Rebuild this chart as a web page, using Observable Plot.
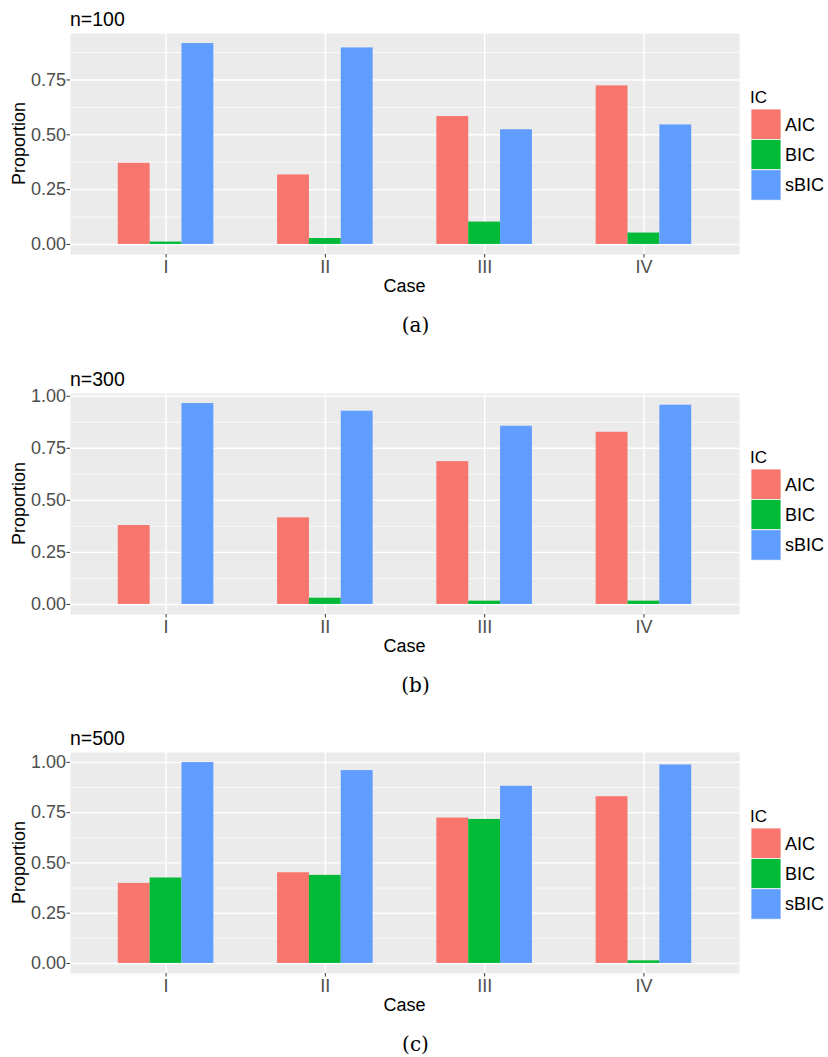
<!DOCTYPE html>
<html><head><meta charset="utf-8">
<script src="https://cdn.jsdelivr.net/npm/d3@7"></script>
<script src="https://cdn.jsdelivr.net/npm/@observablehq/plot@0.6"></script>
<style>
body{margin:0;background:#fff;}
#root{position:relative;width:828px;height:1057px;overflow:hidden;font-family:"Liberation Sans",Arial,sans-serif;}
.panel{position:absolute;left:0;width:828px;height:360px;}
.panel svg{position:absolute;left:0;top:0;}
</style></head><body><div id="root"></div>
<script>
// ---- data ----
const cases = ["I", "II", "III", "IV"];
const ics = ["AIC", "BIC", "sBIC"];
const icColors = ["#F8766D", "#00BA38", "#619CFF"];
const panelTitles = ["n=100", "n=300", "n=500"];
const captions = ["(a)", "(b)", "(c)"];
const aicN100 = [0.370, 0.317, 0.583, 0.723];
const bicN100 = [0.011, 0.027, 0.102, 0.052];
const sbicN100 = [0.916, 0.896, 0.523, 0.545];
const aicN300 = [0.379, 0.416, 0.686, 0.827];
const bicN300 = [0.000, 0.030, 0.016, 0.016];
const sbicN300 = [0.965, 0.928, 0.856, 0.957];
const aicN500 = [0.398, 0.451, 0.723, 0.829];
const bicN500 = [0.425, 0.438, 0.716, 0.013];
const sbicN500 = [0.999, 0.959, 0.881, 0.987];
const majorTicks = [0, 0.25, 0.5, 0.75, 1];
const minorTicks = [0.125, 0.375, 0.625, 0.875];
const xLabel = "Case", yLabel = "Proportion", legendTitle = "IC";

const panelSeries = [
  [aicN100, bicN100, sbicN100],
  [aicN300, bicN300, sbicN300],
  [aicN500, bicN500, sbicN500]
];
const panelTops = [0, 359.5, 719];

// dodge layout (like ggplot position_dodge, width 0.6)
const groupWidth = 0.6;
const barWidth = groupWidth / ics.length;
const casePos = cases.map((c, ci) => ci + 1);

const root = document.getElementById("root");

panelSeries.forEach((series, i) => {
  const rows = [];
  cases.forEach((c, ci) => ics.forEach((ic, k) => {
    const left = casePos[ci] - groupWidth / 2 + k * barWidth;
    rows.push({case: c, ic, value: series[k][ci], x1: left, x2: left + barWidth});
  }));
  const ymax = d3.max(rows, d => d.value);
  const ydom = [-0.05 * ymax, 1.05 * ymax];
  const inDom = t => t >= ydom[0] && t <= ydom[1];
  const xdom = [1 - 0.6, cases.length + 0.6];

  const div = document.createElement("div");
  div.className = "panel";
  div.style.top = panelTops[i] + "px";
  root.appendChild(div);

  const chart = Plot.plot({
    width: 828, height: 300,
    marginTop: 33, marginLeft: 70, marginRight: 89, marginBottom: 46,
    style: {fontFamily: "Liberation Sans, Arial, sans-serif", fontSize: "18px", background: "transparent", overflow: "visible"},
    x: {domain: xdom, label: null},
    y: {domain: ydom, label: null},
    color: {domain: ics, range: icColors},
    marks: [
      Plot.frame({fill: "#EBEBEB"}),
      Plot.gridY(minorTicks.filter(inDom), {stroke: "#fff", strokeOpacity: 1, strokeWidth: 0.7}),
      Plot.gridY(majorTicks.filter(inDom), {stroke: "#fff", strokeOpacity: 1, strokeWidth: 1.4}),
      Plot.gridX(casePos, {stroke: "#fff", strokeOpacity: 1, strokeWidth: 1.4}),
      Plot.rect(rows, {x1: "x1", x2: "x2", y1: () => 0, y2: "value", fill: "ic"}),
      Plot.axisY(majorTicks.filter(inDom), {tickFormat: d3.format(".2f"), tickSize: 3.5, tickPadding: 1, fontSize: 18, fill: "#4d4d4d", stroke: "#333", label: null}),
      Plot.axisX(casePos, {tickFormat: p => cases[p - 1], tickSize: 3.5, tickPadding: 2, fontSize: 18, fill: "#4d4d4d", stroke: "#333", label: null})
    ]
  });
  div.appendChild(chart);

  // overlay with titles, legend and caption
  const ov = d3.select(div).append("svg")
    .attr("width", 828).attr("height", 360)
    .style("font-family", "Liberation Sans, Arial, sans-serif");
  ov.append("text").attr("x", 70).attr("y", 25.7).attr("font-size", 19.5).attr("fill", "#000").text(panelTitles[i]);
  ov.append("text").attr("transform", "translate(24.6,143.5) rotate(-90)").attr("text-anchor", "middle")
    .attr("font-size", 18).attr("fill", "#000").text(yLabel);
  ov.append("text").attr("x", 404.5).attr("y", 292).attr("text-anchor", "middle")
    .attr("font-size", 18).attr("fill", "#000").text(xLabel);
  // legend
  ov.append("text").attr("x", 750).attr("y", 103).attr("font-size", 17).attr("fill", "#000").text(legendTitle);
  ics.forEach((ic, k) => {
    const y0 = 109 + k * 30.4;
    ov.append("rect").attr("x", 751).attr("y", y0).attr("width", 30).attr("height", 30.4)
      .attr("fill", icColors[k]).attr("stroke", "#fff").attr("stroke-width", 0.8);
    ov.append("text").attr("x", 785).attr("y", y0 + 15.2).attr("dy", "0.36em")
      .attr("font-size", 18).attr("fill", "#000").text(ic);
  });
  ov.append("text").attr("x", 415.5).attr("y", 332).attr("text-anchor", "middle")
    .attr("font-size", 20).attr("font-family", "DejaVu Serif, Liberation Serif, serif").attr("fill", "#000").text(captions[i]);
});
</script>
</body></html>
